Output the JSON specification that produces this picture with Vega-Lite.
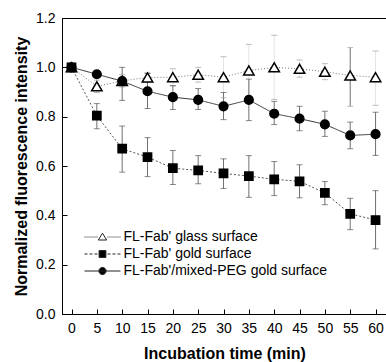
{
  "$schema": "https://vega.github.io/schema/vega-lite/v6.json",
  "width": 325,
  "height": 296,
  "autosize": {"type": "none"},
  "padding": {"left": 62, "top": 18, "right": 0, "bottom": 48},
  "background": "white",
  "config": {
    "view": {"stroke": "black", "strokeWidth": 1},
    "font": "Liberation Sans",
    "axis": {
      "grid": false,
      "domainColor": "black",
      "tickColor": "black",
      "labelColor": "black",
      "titleColor": "black",
      "labelFont": "Liberation Sans",
      "labelFontSize": 14,
      "titleFont": "Liberation Sans",
      "titleFontSize": 16,
      "titleFontWeight": "bold",
      "tickSize": -5,
      "labelPadding": 12
    }
  },
  "data": {
    "values": [
      {"k": "glass", "series": "FL-Fab' glass surface", "t": 0, "v": 1.0, "lo": 1.0, "hi": 1.0},
      {"k": "glass", "series": "FL-Fab' glass surface", "t": 5, "v": 0.923, "lo": 0.898, "hi": 0.948},
      {"k": "glass", "series": "FL-Fab' glass surface", "t": 10, "v": 0.945, "lo": 0.92, "hi": 0.97},
      {"k": "glass", "series": "FL-Fab' glass surface", "t": 15, "v": 0.959, "lo": 0.94, "hi": 0.978},
      {"k": "glass", "series": "FL-Fab' glass surface", "t": 20, "v": 0.96, "lo": 0.926, "hi": 0.994},
      {"k": "glass", "series": "FL-Fab' glass surface", "t": 25, "v": 0.97, "lo": 0.94, "hi": 1.0},
      {"k": "glass", "series": "FL-Fab' glass surface", "t": 30, "v": 0.96, "lo": 0.877, "hi": 1.043},
      {"k": "glass", "series": "FL-Fab' glass surface", "t": 35, "v": 0.987, "lo": 0.88, "hi": 1.093},
      {"k": "glass", "series": "FL-Fab' glass surface", "t": 40, "v": 1.0, "lo": 0.87, "hi": 1.13},
      {"k": "glass", "series": "FL-Fab' glass surface", "t": 45, "v": 0.994, "lo": 0.96, "hi": 1.03},
      {"k": "glass", "series": "FL-Fab' glass surface", "t": 50, "v": 0.982, "lo": 0.95, "hi": 1.015},
      {"k": "glass", "series": "FL-Fab' glass surface", "t": 55, "v": 0.967, "lo": 0.842, "hi": 1.08},
      {"k": "glass", "series": "FL-Fab' glass surface", "t": 60, "v": 0.96, "lo": 0.846, "hi": 1.066},
      {"k": "gold", "series": "FL-Fab' gold surface", "t": 0, "v": 1.0, "lo": 1.0, "hi": 1.0},
      {"k": "gold", "series": "FL-Fab' gold surface", "t": 5, "v": 0.804, "lo": 0.751, "hi": 0.853},
      {"k": "gold", "series": "FL-Fab' gold surface", "t": 10, "v": 0.67, "lo": 0.575, "hi": 0.762},
      {"k": "gold", "series": "FL-Fab' gold surface", "t": 15, "v": 0.636, "lo": 0.557, "hi": 0.715},
      {"k": "gold", "series": "FL-Fab' gold surface", "t": 20, "v": 0.591, "lo": 0.525, "hi": 0.663},
      {"k": "gold", "series": "FL-Fab' gold surface", "t": 25, "v": 0.582, "lo": 0.528, "hi": 0.642},
      {"k": "gold", "series": "FL-Fab' gold surface", "t": 30, "v": 0.57, "lo": 0.509, "hi": 0.629},
      {"k": "gold", "series": "FL-Fab' gold surface", "t": 35, "v": 0.559, "lo": 0.473, "hi": 0.642},
      {"k": "gold", "series": "FL-Fab' gold surface", "t": 40, "v": 0.546, "lo": 0.48, "hi": 0.618},
      {"k": "gold", "series": "FL-Fab' gold surface", "t": 45, "v": 0.538, "lo": 0.471, "hi": 0.605},
      {"k": "gold", "series": "FL-Fab' gold surface", "t": 50, "v": 0.491, "lo": 0.443, "hi": 0.537},
      {"k": "gold", "series": "FL-Fab' gold surface", "t": 55, "v": 0.406, "lo": 0.342, "hi": 0.469},
      {"k": "gold", "series": "FL-Fab' gold surface", "t": 60, "v": 0.381, "lo": 0.264, "hi": 0.5},
      {"k": "peg", "series": "FL-Fab'/mixed-PEG gold surface", "t": 0, "v": 1.0, "lo": 1.0, "hi": 1.0},
      {"k": "peg", "series": "FL-Fab'/mixed-PEG gold surface", "t": 5, "v": 0.972, "lo": 0.962, "hi": 0.982},
      {"k": "peg", "series": "FL-Fab'/mixed-PEG gold surface", "t": 10, "v": 0.944, "lo": 0.866, "hi": 1.0},
      {"k": "peg", "series": "FL-Fab'/mixed-PEG gold surface", "t": 15, "v": 0.903, "lo": 0.833, "hi": 0.975},
      {"k": "peg", "series": "FL-Fab'/mixed-PEG gold surface", "t": 20, "v": 0.879, "lo": 0.829, "hi": 0.925},
      {"k": "peg", "series": "FL-Fab'/mixed-PEG gold surface", "t": 25, "v": 0.868, "lo": 0.829, "hi": 0.914},
      {"k": "peg", "series": "FL-Fab'/mixed-PEG gold surface", "t": 30, "v": 0.842, "lo": 0.788, "hi": 0.898},
      {"k": "peg", "series": "FL-Fab'/mixed-PEG gold surface", "t": 35, "v": 0.868, "lo": 0.784, "hi": 0.952},
      {"k": "peg", "series": "FL-Fab'/mixed-PEG gold surface", "t": 40, "v": 0.812, "lo": 0.768, "hi": 0.862},
      {"k": "peg", "series": "FL-Fab'/mixed-PEG gold surface", "t": 45, "v": 0.792, "lo": 0.743, "hi": 0.842},
      {"k": "peg", "series": "FL-Fab'/mixed-PEG gold surface", "t": 50, "v": 0.769, "lo": 0.72, "hi": 0.822},
      {"k": "peg", "series": "FL-Fab'/mixed-PEG gold surface", "t": 55, "v": 0.724, "lo": 0.67, "hi": 0.778},
      {"k": "peg", "series": "FL-Fab'/mixed-PEG gold surface", "t": 60, "v": 0.729, "lo": 0.643, "hi": 0.818}
    ]
  },
  "encoding": {
    "x": {
      "field": "t", "type": "quantitative",
      "scale": {"domain": [-1.875, 62.26], "nice": false, "zero": false},
      "axis": {"title": "Incubation time (min)", "values": [0, 5, 10, 15, 20, 25, 30, 35, 40, 45, 50, 55, 60], "titlePadding": 10}
    }
  },
  "layer": [
    {
      "mark": {"type": "rule", "strokeWidth": 1},
      "encoding": {
        "y": {
          "field": "lo", "type": "quantitative",
          "scale": {"domain": [0, 1.2], "nice": false},
          "axis": {"title": "Normalized fluorescence intensity", "values": [0, 0.2, 0.4, 0.6, 0.8, 1.0, 1.2], "format": ".1f", "titlePadding": 6}
        },
        "y2": {"field": "hi"},
        "stroke": {"condition": {"test": "datum.k === 'glass' && datum.t !== 55", "value": "#e4e4e4"}, "value": "#707070"}
      }
    },
    {
      "mark": {"type": "tick", "orient": "horizontal", "size": 6, "thickness": 1},
      "encoding": {
        "y": {"field": "lo", "type": "quantitative"},
        "color": {"condition": {"test": "datum.k === 'glass'", "value": "#a0a0a0"}, "value": "#555555"}
      }
    },
    {
      "mark": {"type": "tick", "orient": "horizontal", "size": 6, "thickness": 1},
      "encoding": {
        "y": {"field": "hi", "type": "quantitative"},
        "color": {"condition": {"test": "datum.k === 'glass'", "value": "#a0a0a0"}, "value": "#555555"}
      }
    },
    {
      "mark": {"type": "line", "strokeWidth": 1},
      "encoding": {
        "y": {"field": "v", "type": "quantitative"},
        "detail": {"field": "k"},
        "stroke": {
          "condition": [
            {"test": "datum.k === 'glass'", "value": "#777777"},
            {"test": "datum.k === 'gold'", "value": "#555555"}
          ],
          "value": "#333333"
        },
        "strokeDash": {
          "field": "k", "type": "nominal",
          "scale": {"domain": ["glass", "gold", "peg"], "range": [[1, 2], [2, 2], [1, 0]]},
          "legend": null
        }
      }
    },
    {
      "mark": {"type": "point", "filled": false, "stroke": "black", "strokeWidth": 1.5, "opacity": 1},
      "encoding": {
        "y": {"field": "v", "type": "quantitative"},
        "shape": {
          "condition": [
            {"test": "datum.k === 'glass'", "value": "triangle-up"},
            {"test": "datum.k === 'gold'", "value": "square"}
          ],
          "value": "circle"
        },
        "size": {
          "condition": [
            {"test": "datum.k === 'glass'", "value": 110},
            {"test": "datum.k === 'gold'", "value": 68}
          ],
          "value": 75
        },
        "fill": {"condition": {"test": "datum.k === 'glass'", "value": "white"}, "value": "black"}
      }
    },
    {
      "transform": [{"filter": "false"}],
      "mark": {"type": "point", "filled": false, "strokeWidth": 1, "opacity": 1},
      "encoding": {
        "y": {"field": "v", "type": "quantitative"},
        "shape": {
          "field": "series", "type": "nominal",
          "scale": {
            "domain": ["FL-Fab' glass surface", "FL-Fab' gold surface", "FL-Fab'/mixed-PEG gold surface"],
            "range": [
              "M-4.5,0h0.25M-4,0h0.25M-3.5,0h0.25M-3,0h0.25M-2.5,0h0.25M-2,0h0.25M-1.5,0h0.25M1.25,0h0.25M1.75,0h0.25M2.25,0h0.25M2.75,0h0.25M3.25,0h0.25M3.75,0h0.25M4.25,0h0.25M0,-0.95L1.05,0.75L-1.05,0.75Z",
              "M-4.5,0h0.75M-3.25,0h0.75M-2,0h0.75M1.25,0h0.75M2.5,0h0.75M3.75,0h0.75M-0.85,-0.85h1.7v1.7h-1.7Z",
              "M-4.5,0H4.5M0.9,0A0.9,0.9,0,1,1,-0.9,0A0.9,0.9,0,1,1,0.9,0Z"
            ]
          },
          "legend": {
            "title": null,
            "orient": "none",
            "legendX": 20,
            "legendY": 212,
            "padding": 0,
            "symbolSize": 64,
            "symbolOffset": 13.5,
            "labelOffset": 14,
            "labelLimit": 400,
            "labelFont": "Liberation Sans",
            "labelFontSize": 14,
            "labelColor": "black",
            "rowPadding": 3,
            "symbolStrokeWidth": 1,
            "symbolOpacity": 1
          }
        },
        "fill": {
          "field": "series", "type": "nominal",
          "scale": {"domain": ["FL-Fab' glass surface", "FL-Fab' gold surface", "FL-Fab'/mixed-PEG gold surface"], "range": ["white", "black", "black"]}
        },
        "stroke": {
          "field": "series", "type": "nominal",
          "scale": {"domain": ["FL-Fab' glass surface", "FL-Fab' gold surface", "FL-Fab'/mixed-PEG gold surface"], "range": ["#222222", "#222222", "#222222"]}
        }
      }
    }
  ]
}
